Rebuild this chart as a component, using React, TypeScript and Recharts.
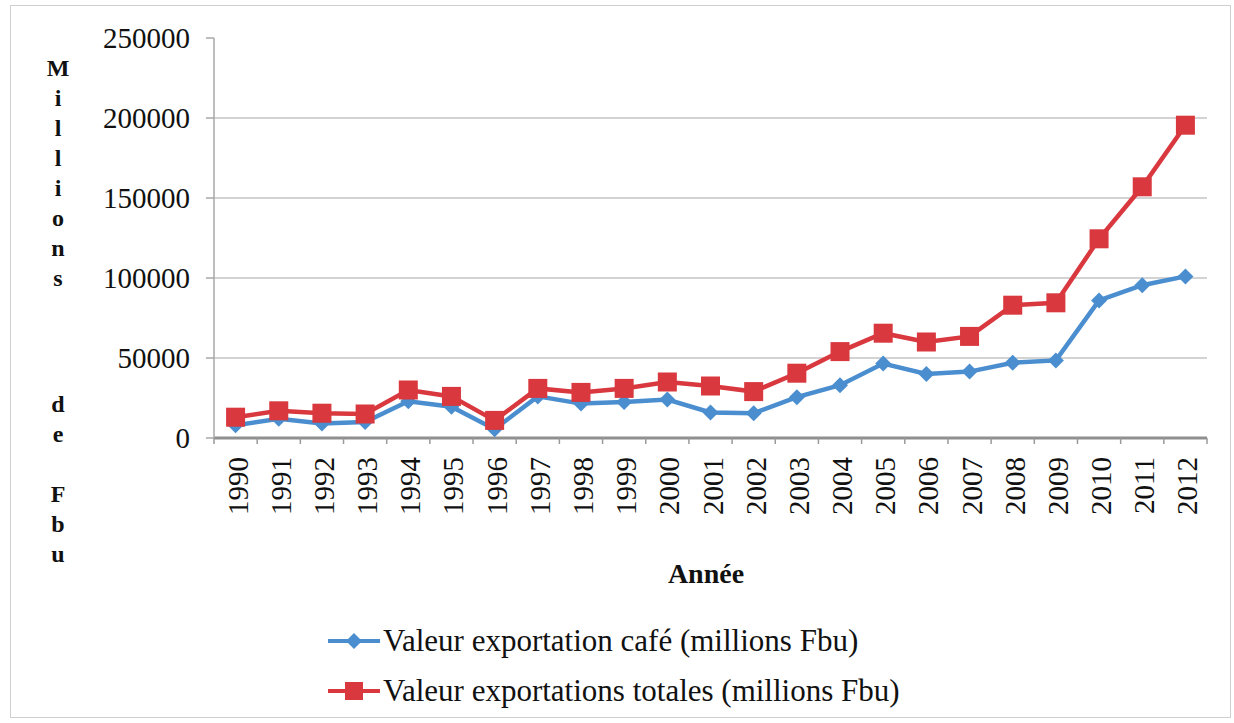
import React from 'react';
import { LineChart, Line, XAxis, YAxis, Legend, ReferenceLine } from 'recharts';

const years = ['1990', '1991', '1992', '1993', '1994', '1995', '1996', '1997', '1998', '1999', '2000', '2001', '2002', '2003', '2004', '2005', '2006', '2007', '2008', '2009', '2010', '2011', '2012'];
const coffeeValues = [8000, 12000, 9000, 10000, 23000, 19500, 5500, 26000, 21500, 22500, 24000, 16000, 15500, 25500, 33000, 46500, 40000, 41500, 47000, 48500, 86000, 95500, 101000];
const totalValues = [13000, 17000, 15500, 15000, 30000, 26000, 11000, 31000, 28500, 31000, 35000, 32500, 29000, 40500, 54000, 65500, 60000, 63500, 83000, 84500, 124500, 157000, 195500];
const yTicks = [0, 50000, 100000, 150000, 200000, 250000];
const gridValues = [50000, 100000, 150000, 200000];
const coffeeName = 'Valeur exportation café (millions Fbu)';
const totalName = 'Valeur exportations totales (millions Fbu)';
const yAxisTitle = 'Millions de Fbu';
const xAxisTitle = 'Année';

const data = years.map((year, i) => ({ year, coffee: coffeeValues[i], total: totalValues[i] }));

const W = 1234;
const H = 723;
const PLOT_LEFT = 214;
const PLOT_RIGHT = 1207;
const PLOT_TOP = 38;
const PLOT_BOTTOM = 438;
const Y_AXIS_W = 100;
const X_AXIS_H = 100;
const HALF_BAND = (PLOT_RIGHT - PLOT_LEFT) / years.length / 2;

const FONT = '"Liberation Serif", "Times New Roman", serif';
const BLUE = '#4A8ECF';
const RED = '#D8383E';

// vertical positions of the stacked y-title letters (spaces skipped)
const letterY = [68, 98, 128, 158, 188, 218, 248, 278, null, 404, 434, null, 494, 524, 554];

const XTick = (props: any) => {
  const { x, payload, index } = props;
  return (
    <g>
      {index === 0 && (
        <line x1={x - HALF_BAND} x2={x - HALF_BAND} y1={PLOT_BOTTOM} y2={PLOT_BOTTOM + 6} stroke="#9a9a9a" strokeWidth={1.5} />
      )}
      <line x1={x + HALF_BAND} x2={x + HALF_BAND} y1={PLOT_BOTTOM} y2={PLOT_BOTTOM + 6} stroke="#9a9a9a" strokeWidth={1.5} />
      <text
        transform={`translate(${x + 2},${PLOT_BOTTOM + 19}) rotate(-90)`}
        textAnchor="end"
        dominantBaseline="central"
        fontFamily={FONT}
        fontSize={29}
        fill="#111"
      >
        {payload.value}
      </text>
    </g>
  );
};

const YTitle = () => (
  <g>
    {yAxisTitle.split('').map((ch, i) =>
      letterY[i] == null || ch === ' ' ? null : (
        <text
          key={i}
          x={58}
          y={letterY[i] as number}
          textAnchor="middle"
          dominantBaseline="central"
          fontFamily={FONT}
          fontWeight="bold"
          fontSize={24}
          fill="#111"
        >
          {ch}
        </text>
      )
    )}
  </g>
);

const XTitle = () => (
  <text x={706} y={573} textAnchor="middle" dominantBaseline="central" fontFamily={FONT} fontWeight="bold" fontSize={28} fill="#111">
    {xAxisTitle}
  </text>
);

const Diamond = (props: any) => {
  const { cx, cy, index } = props;
  const r = 8;
  return <path key={`d${index}`} d={`M${cx},${cy - r}L${cx + r},${cy}L${cx},${cy + r}L${cx - r},${cy}Z`} fill={BLUE} />;
};

const Square = (props: any) => {
  const { cx, cy, index } = props;
  const s = 19;
  return <rect key={`s${index}`} x={cx - s / 2} y={cy - s / 2} width={s} height={s} fill={RED} />;
};

const renderLegend = () => {
  const items = [
    { name: coffeeName, color: BLUE, shape: 'diamond' },
    { name: totalName, color: RED, shape: 'square' },
  ];
  return (
    <div>
      {items.map((it) => (
        <div key={it.name} style={{ display: 'flex', alignItems: 'center', height: 50 }}>
          <svg width={56} height={30} style={{ flex: 'none' }}>
            <line x1={2} x2={54} y1={15} y2={15} stroke={it.color} strokeWidth={4} />
            {it.shape === 'diamond' ? (
              <path d="M28,7L36,15L28,23L20,15Z" fill={it.color} />
            ) : (
              <rect x={19} y={6} width={18} height={18} fill={it.color} />
            )}
          </svg>
          <span style={{ fontFamily: FONT, fontSize: 31, color: '#111', whiteSpace: 'nowrap', marginLeft: 1 }}>{it.name}</span>
        </div>
      ))}
    </div>
  );
};

export default function App() {
  return (
    <div style={{ position: 'absolute', left: 0, top: 0, width: W, height: H, background: '#fff' }}>
      <div
        style={{
          position: 'absolute',
          left: 10,
          top: 5,
          width: 1221,
          height: 713,
          border: '1.5px solid #cfcfcf',
          boxSizing: 'border-box',
        }}
      />
      <div style={{ position: 'absolute', left: 0, top: 0 }}>
        <LineChart
          width={W}
          height={H}
          data={data}
          margin={{ top: PLOT_TOP, left: PLOT_LEFT - Y_AXIS_W, right: W - PLOT_RIGHT, bottom: H - PLOT_BOTTOM - X_AXIS_H }}
        >
          {gridValues.map((v) => (
            <ReferenceLine key={v} y={v} stroke="#c4c4c4" strokeWidth={1.5} />
          ))}
          <XAxis
            dataKey="year"
            height={X_AXIS_H}
            interval={0}
            padding={{ left: HALF_BAND, right: HALF_BAND }}
            tickLine={false}
            axisLine={{ stroke: '#8f8f8f', strokeWidth: 3 }}
            tick={<XTick />}
            label={{ content: <XTitle /> }}
          />
          <YAxis
            width={Y_AXIS_W}
            domain={[0, 250000]}
            ticks={yTicks}
            interval={0}
            tickSize={8}
            tickMargin={16}
            axisLine={{ stroke: '#a8a8a8', strokeWidth: 1.5 }}
            tickLine={{ stroke: '#a8a8a8', strokeWidth: 1.5 }}
            tick={{ fontFamily: FONT, fontSize: 29, fill: '#111' }}
            label={{ content: <YTitle /> }}
          />
          <Line
            type="linear"
            dataKey="coffee"
            name={coffeeName}
            stroke={BLUE}
            strokeWidth={4.5}
            dot={Diamond}
            activeDot={false}
            isAnimationActive={false}
          />
          <Line
            type="linear"
            dataKey="total"
            name={totalName}
            stroke={RED}
            strokeWidth={4.5}
            dot={Square}
            activeDot={false}
            isAnimationActive={false}
          />
          <Legend
            layout="vertical"
            align="center"
            verticalAlign="middle"
            content={renderLegend}
            wrapperStyle={{ position: 'absolute', left: 326, top: 616, width: 720, height: 100 }}
          />
        </LineChart>
      </div>
    </div>
  );
}
